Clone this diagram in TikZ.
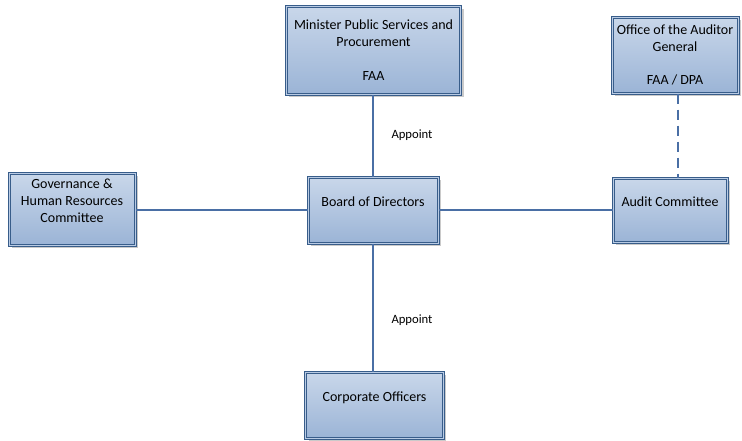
\documentclass[tikz,border=0pt]{standalone}
\usepackage{fontspec}
\setmainfont{Carlito}
\usetikzlibrary{positioning, shadows}
\definecolor{boxline}{HTML}{385D8A}
\definecolor{boxtop}{HTML}{C9D7EA}
\definecolor{boxbottom}{HTML}{9BB4D6}
\definecolor{boxinner}{HTML}{B9CBE4}
\definecolor{linkblue}{HTML}{4A6FA5}
\tikzset{
    orgbox/.style={draw=boxline, line width=0.75pt, double=boxinner, double distance=0.75pt,
        top color=boxtop, bottom color=boxbottom, align=center, inner sep=2pt,
        font=\fontsize{10.5}{12.6}\selectfont,
        drop shadow={shadow xshift=2pt, shadow yshift=-2pt, fill=black!35, opacity=0.6}},
    link/.style={draw=linkblue, line width=0.8pt},
    dashlink/.style={link, dash pattern=on 7.5pt off 4.5pt},
    tag/.style={font=\fontsize{9.5}{11.4}\selectfont}
}
\begin{document}
\begin{tikzpicture}[x=0.75pt, y=-0.75pt]
    \useasboundingbox (0,0) rectangle (742,440);

    % Boxes
    \node[orgbox, minimum width=131pt, minimum height=66pt] (minister) at (373.5,50)
        {Minister Public Services and\\Procurement\\[12.6pt]FAA};
    \node[orgbox, minimum width=94.5pt, minimum height=57pt] (auditor) at (675,55)
        {Office of the Auditor\\General\\[12.6pt]FAA / DPA};
    \node[orgbox, minimum width=94.5pt, minimum height=54pt] (governance) at (72,209)
        {Governance \&\\Human Resources\\Committee\\\mbox{}};
    \node[orgbox, minimum width=97.5pt, minimum height=49.5pt] (board) at (373,210)
        {Board of Directors\\\mbox{}};
    \node[orgbox, minimum width=85.5pt, minimum height=48pt] (audit) at (670,210)
        {Audit Committee\\\mbox{}};
    \node[orgbox, minimum width=103pt, minimum height=49.5pt] (corporate) at (374.5,405)
        {Corporate Officers\\\mbox{}};

    % Connectors
    \draw[link] (minister.south -| board.north) -- (board.north);
    \draw[link] (board.south) -- (corporate.north -| board.south);
    \draw[link] (governance.east |- board.west) -- (board.west);
    \draw[link] (board.east) -- (audit.west |- board.east);
    \draw[dashlink] ([xshift=2.25pt]auditor.south) -- ([xshift=2.25pt]auditor.south |- audit.north);

    % Labels
    \node[tag] (appointtop) at (412,135) {Appoint};
    \node[tag] (appointbottom) at (412,320) {Appoint};
\end{tikzpicture}
\end{document}
